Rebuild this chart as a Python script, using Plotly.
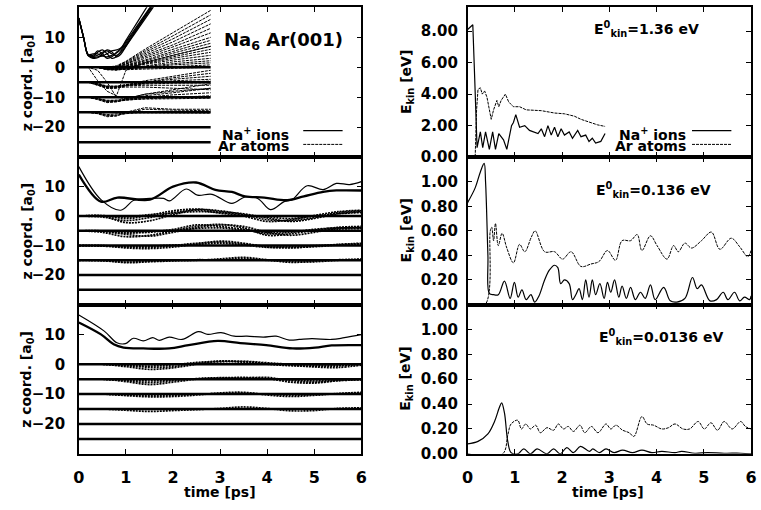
import plotly.graph_objects as go

# ---------------- data ----------------
LAYERS = [0, -5, -10, -15, -20, -25]
T_FLAT_TOP = [0, 2.8]
T_FLAT = [0, 6]

# top-left panel (E0 = 1.36 eV), simulation stops at 2.8 ps
T_TOP = [0, 0.2, 0.4, 0.6, 0.8, 1.0, 1.4, 2.0, 2.8]
AR_TOP_L0 = [
    [0, 0, 0, 0, 0.5, 2, 6, 11.5, 19],
    [0, 0, 0, -0.3, 0.3, 1.8, 5.5, 10.5, 17.5],
    [0, 0, 0, -0.3, 0.2, 1.5, 5, 9.5, 16],
    [0, 0, 0, -0.5, 0, 1.2, 4.5, 8.5, 14.5],
    [0, 0, 0, -0.5, 0, 1, 4, 7.5, 13],
    [0, 0, 0, -0.4, 0, 1, 3.5, 6.8, 11.5],
    [0, 0, 0, -0.5, -0.3, 0.6, 3, 6, 10],
    [0, 0, 0, -0.6, -0.3, 0.5, 2.5, 5.3, 9],
    [0, 0, 0, -0.5, -0.4, 0.4, 2.2, 4.7, 8],
    [0, 0, 0, -0.7, -0.5, 0.2, 1.8, 4, 7],
    [0, 0, 0, -0.6, -0.6, 0, 1.5, 3.5, 6],
    [0, 0, 0, -0.8, -0.7, 0, 1.2, 3, 5],
    [0, 0, 0, -0.7, -0.8, -0.2, 1, 2.4, 4],
    [0, 0, 0, -0.8, -1, -0.5, 0.5, 1.8, 3],
    [0, 0, 0, -0.5, -0.7, -0.4, 0.3, 1.2, 2.2],
    [0, 0, 0, -0.6, -0.8, -0.6, 0, 0.8, 1.5],
    [0, 0, 0, -0.4, -0.5, -0.5, -0.2, 0.3, 0.8],
    [0, 0, 0, -0.3, -0.6, -0.8, -0.6, -0.3, 0],
]
AR_TOP_PUSHED = [
    [0, 0, -4.5, -8, -9.5, -1, 1.5, 4, 7],
    [0, 0, -1, -5, -10, -10.5, -9, -8, -7],
]
AR_TOP_L5 = [
    [-5, -5, -5.5, -6.5, -6.5, -6, -4.5, -3, -1],
    [-5, -5, -5.8, -6.8, -6.8, -6, -5, -3.5, -2],
    [-5, -5, -5.5, -6.5, -6.5, -5.8, -5, -4, -3],
    [-5, -5, -6, -7, -7, -6.2, -5.3, -4.5, -4],
    [-5, -5, -5.7, -6.5, -6.3, -5.8, -5.3, -5, -4.6],
    [-5, -5, -5.5, -6.2, -6.3, -6, -5.6, -5.3, -5.2],
    [-5, -5, -5.8, -6.6, -6.6, -6.2, -6, -6, -6],
    [-5, -5, -6, -7, -6.8, -6.6, -6.6, -7, -7.5],
]
AR_TOP_L10 = [
    [-10, -10, -10.5, -11.5, -11.5, -10.5, -9, -7.5, -5.5],
    [-10, -10, -10.8, -11.8, -11.5, -10.8, -9.5, -8.5, -7],
    [-10, -10, -10.5, -11.3, -11.3, -10.8, -10, -9.2, -8.5],
    [-10, -10, -10.6, -11.5, -11.4, -11, -10.5, -10, -9.5],
    [-10, -10, -10.4, -11.2, -11, -10.6, -10.2, -10, -10],
    [-10, -10, -10.5, -11, -11, -10.8, -10.6, -10.5, -10.3],
]
AR_TOP_L15 = [
    [-15, -15, -15.5, -16.5, -16.3, -15, -13.5, -14, -14],
    [-15, -15, -15.3, -16.2, -16, -15.3, -14, -14.3, -14.5],
    [-15, -15, -15.4, -16, -16, -15.5, -14.8, -14.8, -15],
    [-15, -15, -15.2, -15.8, -15.6, -15.3, -15.2, -15.2, -15.3],
]
T_NA_TOP = [0, 0.1, 0.2, 0.3, 0.4, 0.5, 0.6, 0.7, 0.8, 0.9, 1.0, 1.2, 1.4, 1.6]
NA_TOP = [
    [16.3, 10, 4, 3.5, 5, 5.8, 4.5, 3, 3.5, 5.5, 7.5, 12, 16.5, 21],
    [16.3, 10, 4, 3, 3.2, 4.5, 5.8, 5.2, 3.5, 4.5, 7, 12, 17, 22],
    [16.5, 10.2, 4.3, 4, 5.5, 4.5, 3, 3.5, 5, 6.5, 8.5, 13, 17.5, 22],
    [16, 9.8, 3.8, 3.3, 3.5, 3.8, 4.5, 5.5, 5.8, 6.5, 9, 14, 19, 24],
    [16.2, 10, 4.2, 4.5, 4.5, 3.8, 3.5, 4, 4.8, 6, 8, 12.5, 17, 21.5],
    [16.4, 10.1, 4, 3.6, 4, 5, 5.5, 4.5, 4, 5, 7, 11.5, 16, 20.5],
]

# middle-left panel (E0 = 0.136 eV)
T_GRID = [0, 0.5, 1.0, 1.5, 2.0, 2.5, 3.0, 3.5, 4.0, 4.5, 5.0, 5.5, 6.0]
AR_MID = [
    [0, 0, -2.2, -1.6, 0.5, 2.2, 1.8, 0.5, -1.2, -1.5, -0.5, 1.2, 1.8],
    [0, -0.3, -1.5, -0.5, 1.2, 2.0, 1.0, 0, -1.8, -1.2, 0.2, 1.5, 2.0],
    [0, 0.2, -0.8, 0.3, 1.8, 2.4, 1.5, 0.8, -0.6, -1.8, -0.8, 0.8, 1.5],
    [0, 0, -0.3, 0.5, 1.0, 1.5, 1.2, 0.4, -0.3, -0.8, 0, 0.8, 1.2],
    [-5, -5.5, -7, -6.5, -5, -3.5, -2.8, -4.0, -6.5, -6, -4.8, -3.8, -3.5],
    [-5, -5.2, -6.2, -6.8, -5.5, -4, -3, -3.5, -5.5, -6.5, -5.5, -4.2, -3.8],
    [-5, -5, -5.5, -5.5, -4.5, -3, -3.5, -4.5, -6, -5.5, -4.5, -4, -4],
    [-5, -5, -5.8, -5.2, -4.8, -4.2, -4, -4.8, -5.5, -5.2, -4.8, -4.4, -4.2],
    [-10, -10, -10.8, -11, -10.5, -9.5, -8.5, -9.2, -10.5, -10.8, -10.2, -9.6, -9.2],
    [-10, -10.2, -10.5, -10.6, -10, -9.2, -8.8, -9.5, -10.2, -10.6, -10.4, -9.8, -9.4],
    [-10, -10, -10.3, -10.2, -9.8, -9.6, -9.2, -9.8, -10.6, -10.3, -10, -9.7, -9.5],
    [-15, -15, -15.8, -15.5, -15.2, -15, -14.5, -14, -14.8, -15.7, -15.3, -14.8, -14.6],
    [-15, -15.2, -15.6, -15.3, -15, -14.8, -14.8, -14.3, -15, -15.4, -15.5, -15, -14.7],
]
NA_MID_THIN_T = [0, 0.47, 0.89, 1.17, 1.51, 1.8, 1.93, 2.28, 2.52, 2.83, 3.25, 3.53,
                 3.8, 4.07, 4.36, 4.53, 4.85, 5.19, 5.47, 5.75, 6.0]
NA_MID_THIN_Z = [16.8, 5.6, 2.0, 5.4, 6.0, 6.0, 5.2, 9.2, 7.1, 7.4, 4.3, 6.5,
                 6.0, 2.2, 4.9, 5.6, 10.3, 9.0, 11.1, 10.7, 11.7]
NA_MID_THICK_T = [0, 0.47, 0.82, 1.51, 2.0, 2.49, 2.9, 3.25, 3.53, 3.94, 4.43, 4.78, 5.19, 5.47, 6.0]
NA_MID_THICK_Z = [14.1, 4.9, 6.3, 5.6, 10.0, 11.4, 8.9, 8.2, 6.7, 6.3, 5.4, 6.7, 8.2, 8.7, 8.7]

# bottom-left panel (E0 = 0.0136 eV)
AR_BOT = [
    [0, 0, -0.8, -1.7, -1.2, 0, 1.0, 0.9, 0.3, -0.3, -0.9, -1.1, -0.3],
    [0, 0, -0.5, -1.0, -0.8, 0.4, 1.1, 0.6, 0, -0.5, -0.6, -0.6, 0],
    [0, 0, -0.3, -0.6, -0.2, 0.6, 0.8, 1.0, 0.5, 0, -0.3, -0.3, 0.2],
    [-5, -5, -5.8, -6.8, -6.0, -5.0, -4.6, -4.4, -4.8, -6.0, -6.3, -5.5, -5.0],
    [-5, -5, -5.5, -6.2, -5.5, -4.8, -4.5, -4.6, -4.4, -5.5, -6.0, -5.5, -5.2],
    [-5, -5, -5.3, -5.6, -5.2, -4.9, -4.7, -4.8, -4.8, -5.2, -5.6, -5.3, -5.0],
    [-10, -10, -10.5, -10.9, -10.8, -10.3, -9.6, -9.4, -10.3, -10.8, -10.4, -9.8, -9.4],
    [-10, -10, -10.3, -10.5, -10.4, -10.0, -9.8, -9.7, -10.0, -10.4, -10.2, -9.9, -9.6],
    [-15, -15, -15.4, -15.8, -15.5, -15.2, -14.8, -14.3, -14.8, -15.6, -15.5, -14.8, -14.6],
]
NA_BOT_THIN_T = [0, 0.54, 0.81, 0.99, 1.16, 1.37, 1.57, 1.71, 1.92, 2.19, 2.54, 2.74,
                 3.02, 3.3, 3.57, 3.92, 4.19, 4.47, 4.68, 4.95, 5.37, 5.64, 6.0]
NA_BOT_THIN_Z = [16.5, 11.1, 7.2, 6.9, 8.7, 7.8, 8.9, 8.0, 9.1, 8.3, 10.9, 10.0,
                 10.6, 9.4, 9.4, 9.1, 9.4, 8.1, 8.3, 8.6, 8.3, 8.9, 9.9]
NA_BOT_THICK_T = [0, 0.47, 0.74, 0.95, 1.37, 1.92, 2.33, 2.95, 3.43, 3.98, 4.54, 5.02, 5.37, 6.0]
NA_BOT_THICK_Z = [14.0, 10.0, 6.7, 5.6, 5.3, 5.3, 6.4, 7.8, 7.1, 6.4, 5.3, 5.6, 6.3, 6.4]

# right column: kinetic energies
NA_R1_T = [0, 0.05, 0.11, 0.15, 0.2, 0.27, 0.32, 0.38, 0.46, 0.53, 0.59, 0.66, 0.76, 0.83,
           0.93, 0.97, 1.02, 1.10, 1.21, 1.31, 1.42, 1.49, 1.56, 1.63, 1.70, 1.77, 1.84,
           1.91, 1.98, 2.05, 2.15, 2.22, 2.33, 2.40, 2.50, 2.57, 2.64, 2.71, 2.82, 2.91]
NA_R1_E = [8.1, 8.25, 8.4, 5.0, 0.6, 1.6, 0.6, 1.6, 0.5, 1.6, 0.5, 1.5, 1.1, 0.5,
           2.0, 2.2, 2.7, 1.9, 2.0, 1.7, 1.6, 1.5, 1.8, 1.3, 2.0, 1.4, 1.9,
           1.3, 1.8, 1.4, 1.6, 1.2, 1.7, 1.3, 1.4, 1.0, 1.2, 0.9, 1.0, 1.5]
AR_R1_T = [0, 0.16, 0.19, 0.22, 0.27, 0.31, 0.36, 0.41, 0.5, 0.55, 0.62, 0.66, 0.71, 0.8,
           0.87, 0.97, 1.1, 1.24, 1.56, 1.84, 2.05, 2.26, 2.4, 2.6, 2.75, 2.91]
AR_R1_E = [0, 0, 3.0, 4.3, 4.4, 4.0, 4.2, 3.8, 2.4, 3.0, 3.6, 3.2, 3.6, 4.0,
           3.5, 3.2, 3.2, 3.0, 2.95, 2.8, 2.75, 2.6, 2.4, 2.2, 2.05, 1.95]

NA_R2_T = [0, 0.16, 0.27, 0.35, 0.38, 0.43, 0.46, 0.55, 0.65, 0.78, 0.9, 0.99, 1.07, 1.15,
           1.24, 1.34, 1.42, 1.51, 1.63, 1.73, 1.84, 1.91, 1.97, 2.05, 2.15, 2.22, 2.29,
           2.36, 2.43, 2.5, 2.57, 2.64, 2.71, 2.8, 2.89, 2.96, 3.03, 3.11, 3.2, 3.27,
           3.36, 3.45, 3.55, 3.66, 3.76, 3.87, 3.97, 4.15, 4.29, 4.43, 4.6, 4.76, 4.86,
           4.95, 5.13, 5.27, 5.41, 5.51, 5.65, 5.76, 5.86, 5.97, 6.0]
NA_R2_E = [0.83, 0.95, 1.08, 1.15, 1.0, 0.4, 0.09, 0.08, 0.08, 0.19, 0.05, 0.18, 0.06, 0.12,
           0.04, 0.08, 0.02, 0.07, 0.2, 0.28, 0.32, 0.3, 0.17, 0.2, 0.17, 0.04, 0.08,
           0.13, 0.04, 0.2, 0.06, 0.2, 0.08, 0.17, 0.05, 0.18, 0.1, 0.2, 0.06, 0.15,
           0.05, 0.14, 0.04, 0.1, 0.05, 0.16, 0.04, 0.14, 0.03, 0.02, 0.05, 0.22, 0.13,
           0.16, 0.03, 0.04, 0.1, 0.04, 0.1, 0.03, 0.06, 0.04, 0.07]
AR_R2_T = [0, 0.37, 0.48, 0.51, 0.55, 0.59, 0.65, 0.73, 0.83, 0.97, 1.1, 1.21, 1.35, 1.43,
           1.63, 1.84, 2.01, 2.19, 2.4, 2.61, 2.78, 2.96, 3.13, 3.27, 3.45, 3.59, 3.69,
           3.87, 4.01, 4.22, 4.36, 4.46, 4.6, 4.74, 4.95, 5.16, 5.34, 5.58, 5.76, 5.93, 6.0]
AR_R2_E = [0, 0, 0.6, 0.63, 0.52, 0.66, 0.48, 0.58, 0.46, 0.34, 0.49, 0.43, 0.55, 0.6,
           0.43, 0.43, 0.37, 0.43, 0.31, 0.33, 0.35, 0.44, 0.36, 0.52, 0.52, 0.57, 0.44,
           0.56, 0.48, 0.37, 0.48, 0.43, 0.5, 0.46, 0.52, 0.59, 0.45, 0.54, 0.47, 0.39, 0.44]

NA_R3_T = [0, 0.22, 0.43, 0.57, 0.67, 0.72, 0.78, 0.85, 0.92, 1.06, 1.19, 1.33, 1.47, 1.68,
           1.82, 1.96, 2.1, 2.24, 2.39, 2.58, 2.65, 2.79, 2.93, 3.1, 3.28, 3.49, 3.69,
           3.9, 4.11, 4.39, 4.53, 4.81, 5.08, 5.43, 5.78, 6.0]
NA_R3_E = [0.08, 0.1, 0.16, 0.26, 0.37, 0.41, 0.33, 0.1, 0.01, 0.0, 0.04, 0.0, 0.04, 0.0,
           0.04, 0.0, 0.05, 0.01, 0.06, 0.02, 0.04, 0.01, 0.04, 0.01, 0.03, 0.01, 0.03,
           0.01, 0.02, 0.01, 0.02, 0.005, 0.01, 0.005, 0.005, 0.0]
AR_R3_T = [0, 0.74, 0.85, 0.92, 1.06, 1.14, 1.23, 1.33, 1.44, 1.54, 1.68, 1.82, 1.92, 2.03,
           2.13, 2.24, 2.38, 2.48, 2.62, 2.76, 2.93, 3.03, 3.14, 3.28, 3.42, 3.52, 3.69,
           3.8, 3.94, 4.11, 4.25, 4.39, 4.56, 4.7, 4.88, 5.01, 5.15, 5.29, 5.43, 5.6,
           5.78, 5.88, 6.0]
AR_R3_E = [0, 0, 0.15, 0.24, 0.27, 0.2, 0.24, 0.2, 0.23, 0.17, 0.21, 0.19, 0.24, 0.2,
           0.22, 0.18, 0.23, 0.17, 0.22, 0.17, 0.24, 0.2, 0.23, 0.19, 0.17, 0.14, 0.3,
           0.24, 0.23, 0.2, 0.21, 0.24, 0.2, 0.2, 0.26, 0.2, 0.25, 0.19, 0.26, 0.2,
           0.26, 0.22, 0.2]

X_TICKS = [0, 1, 2, 3, 4, 5, 6]
Z_TICKS = [-20, -10, 0, 10]
E_TICKS_TOP = [0, 2, 4, 6, 8]
E_TICKS_LOW = [0, 0.2, 0.4, 0.6, 0.8, 1.0]
PANEL_LABELS = ["E<sup>0</sup><sub>kin</sub>=1.36 eV",
                "E<sup>0</sup><sub>kin</sub>=0.136 eV",
                "E<sup>0</sup><sub>kin</sub>=0.0136 eV"]

# ---------------- figure ----------------
W, H = 761, 510
FONT = "DejaVu Sans, Verdana, sans-serif"


def px(x):
    return x / W


def py(y):
    return 1 - y / H


fig = go.Figure()

NA_LINE = dict(color="black", width=1.2)
NA_THICK = dict(color="black", width=2.3)
AR_LINE = dict(color="black", width=1, dash="3px,1px")
AR_BAND = dict(color="black", width=1.7, dash="2px,1px")
LAYER_LINE = dict(color="black", width=2.5)


def add(xs, ys, xa, ya, line, shape="linear"):
    fig.add_trace(go.Scatter(x=xs, y=ys, mode="lines", line=dict(line, shape=shape),
                             xaxis=xa, yaxis=ya, showlegend=False, hoverinfo="skip"))


# top-left
for z in LAYERS:
    add(T_FLAT_TOP, [z, z], "x", "y", LAYER_LINE)
for group in (AR_TOP_L0, AR_TOP_L5, AR_TOP_L10, AR_TOP_L15, AR_TOP_PUSHED):
    for zs in group:
        add(T_TOP, zs, "x", "y", AR_LINE)
for zs in NA_TOP:
    add(T_NA_TOP, zs, "x", "y", NA_LINE, "spline")

# middle-left
for z in LAYERS:
    add(T_FLAT, [z, z], "x3", "y3", LAYER_LINE)
for zs in AR_MID:
    add(T_GRID, zs, "x3", "y3", AR_BAND, "spline")
add(NA_MID_THIN_T, NA_MID_THIN_Z, "x3", "y3", NA_LINE, "spline")
add(NA_MID_THICK_T, NA_MID_THICK_Z, "x3", "y3", NA_THICK, "spline")

# bottom-left
for z in LAYERS:
    add(T_FLAT, [z, z], "x5", "y5", LAYER_LINE)
for zs in AR_BOT:
    add(T_GRID, zs, "x5", "y5", AR_BAND, "spline")
add(NA_BOT_THIN_T, NA_BOT_THIN_Z, "x5", "y5", NA_LINE, "spline")
add(NA_BOT_THICK_T, NA_BOT_THICK_Z, "x5", "y5", NA_THICK, "spline")

# right column
add(AR_R1_T, AR_R1_E, "x2", "y2", AR_LINE)
add(NA_R1_T, NA_R1_E, "x2", "y2", NA_LINE)
add(AR_R2_T, AR_R2_E, "x4", "y4", AR_LINE, "spline")
add(NA_R2_T, NA_R2_E, "x4", "y4", NA_LINE, "spline")
add(AR_R3_T, AR_R3_E, "x6", "y6", AR_LINE, "spline")
add(NA_R3_T, NA_R3_E, "x6", "y6", NA_LINE, "spline")

LEFT = [px(74), px(361)]
RIGHT = [px(469), px(757)]
ROWS = [[py(160), py(7.5)], [py(310), py(160)], [py(462), py(310)]]

tickfont = dict(family=FONT, size=15, color="black", weight="bold")
common = dict(ticks="inside", ticklen=5, tickwidth=1, tickcolor="black", showline=True,
              linecolor="black", linewidth=1.5, mirror="ticks", showgrid=False,
              zeroline=False, tickfont=tickfont)

axes = {}
names = [("xaxis", "yaxis"), ("xaxis2", "yaxis2"), ("xaxis3", "yaxis3"),
         ("xaxis4", "yaxis4"), ("xaxis5", "yaxis5"), ("xaxis6", "yaxis6")]
for i, (xn, yn) in enumerate(names):
    row, col = divmod(i, 2)
    xid = "x" if i == 0 else f"x{i + 1}"
    yid = "y" if i == 0 else f"y{i + 1}"
    axes[xn] = dict(common, domain=LEFT if col == 0 else RIGHT, anchor=yid, range=[0, 6],
                    tickvals=X_TICKS, showticklabels=(row == 2),
                    tickfont=dict(tickfont, size=16), ticklabelstandoff=8)
    if col == 0:
        axes[yn] = dict(common, domain=ROWS[row], anchor=xid, range=[-30, 20],
                        tickvals=Z_TICKS, ticklabelstandoff=9)
    else:
        if row == 0:
            axes[yn] = dict(common, domain=ROWS[row], anchor=xid, range=[0, 9.5],
                            tickvals=E_TICKS_TOP, tickformat=".2f", ticklabelstandoff=5)
        else:
            axes[yn] = dict(common, domain=ROWS[row], anchor=xid, range=[0, 1.2],
                            tickvals=E_TICKS_LOW, tickformat=".2f", ticklabelstandoff=5)

fig.update_layout(width=W, height=H, margin=dict(l=0, r=0, t=0, b=0), autosize=False,
                  paper_bgcolor="white", plot_bgcolor="white",
                  font=dict(family=FONT, color="black", weight="bold"), **axes)

ann = []
bold = dict(family=FONT, color="black", weight="bold")


def note(x, y, text, size=14, xanchor="center", angle=0):
    ann.append(dict(x=px(x), y=py(y), xref="paper", yref="paper", text=text,
                    showarrow=False, xanchor=xanchor, yanchor="middle", textangle=angle,
                    font=dict(bold, size=size)))


# y-axis titles
for (y0, y1) in [(8, 160), (160, 310), (310, 462)]:
    note(22, (y0 + y1) / 2, "z coord. [a<sub>0</sub>]", angle=-90)
    note(407, (y0 + y1) / 2, "E<sub>kin</sub> [eV]", angle=-90)
# x titles
for xc in (217, 612):
    note(xc, 501, "time [ps]")
# panel labels
note(282, 42, "Na<sub>6</sub> Ar(001)", size=18)
for (xc, yc), txt in zip([(651, 30), (658, 193), (666, 343)], PANEL_LABELS):
    note(xc, yc, txt)

# legends (gnuplot style: text then line sample)
shapes = []
for (xr, l0, l1) in [(290, 302, 342), (693, 697, 737)]:
    note(xr, 136, "Na<sup>+</sup> ions", xanchor="right")
    note(xr, 149, "Ar atoms", xanchor="right")
    shapes.append(dict(type="line", xref="paper", yref="paper", x0=px(l0), x1=px(l1),
                       y0=py(133), y1=py(133), line=dict(color="black", width=1.2)))
    shapes.append(dict(type="line", xref="paper", yref="paper", x0=px(l0), x1=px(l1),
                       y0=py(147), y1=py(147),
                       line=dict(color="black", width=1, dash="3px,1px")))

fig.update_layout(annotations=ann, shapes=shapes)
# drop the browser's default 8px body margin so the 761x510 figure fills the window
fig.write_html("out.html", config={"displayModeBar": False},
               post_script="document.body.style.margin='0px';"
                           "document.documentElement.style.overflow='hidden';"
                           "document.body.style.overflow='hidden';")
